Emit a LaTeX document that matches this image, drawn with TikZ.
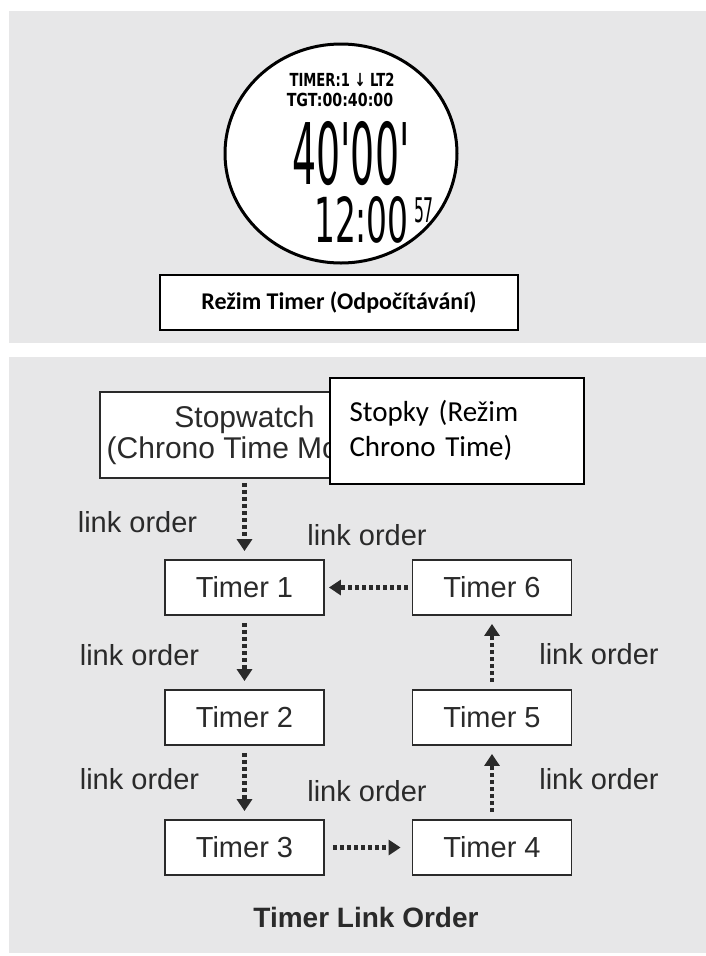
\documentclass[tikz,border=0pt]{standalone}
\usepackage{fontspec}
\setmainfont{Liberation Sans}
\newfontfamily\calibri{Carlito}
\newfontfamily\lcd{DejaVu Sans}
\usetikzlibrary{arrows.meta}
\usetikzlibrary{positioning}
\definecolor{panelgray}{HTML}{E7E7E8}
\definecolor{ink}{HTML}{2A2A2A}
\tikzset{
	timerbox/.style={draw=ink, line width=1.8pt, fill=white, minimum width=159pt, minimum height=55pt, text=ink, font=\fontsize{29}{32}\selectfont},
	linklabel/.style={text=ink, inner sep=0pt, font=\fontsize{29}{30}\selectfont},
	linkarrow/.style={draw=ink, line width=4.5pt, dash pattern=on 4pt off 3pt, -{Triangle[width=15pt,length=12pt]}, shorten <=7pt, shorten >=8pt},
	czbox/.style={draw=black, line width=2pt, fill=white},
	lcdtext/.style={inner sep=0pt, text=black, text depth=0pt}
}
\begin{document}
\begin{tikzpicture}[x=1pt, y=-1pt]
	\useasboundingbox (0,0) rectangle (706,956);
	% panels
	\fill[panelgray] (9,11) rectangle (706,343);
	\fill[panelgray] (9,357) rectangle (706,953);
	% watch face
	\draw[line width=3pt, fill=white] (341,153.5) ellipse [x radius=116pt, y radius=109.5pt];
	\node[lcdtext, anchor=base, xscale=0.73, text height=13pt, font=\lcd\bfseries\fontsize{18}{18}\selectfont] (wtimer) at (342,86) {TIMER:1 ↓ LT2};
	\node[lcdtext, anchor=base, xscale=0.79, text height=13pt, font=\lcd\bfseries\fontsize{18}{18}\selectfont] (wtarget) at (340,106) {TGT:00:40:00};
	\node[lcdtext, anchor=base, xscale=0.445, text height=62pt, font=\lcd\fontsize{85}{85}\selectfont] (wcount) at (351,184) {40'00'};
	\node[lcdtext, anchor=base west, xscale=0.53, text height=45pt, font=\lcd\fontsize{62}{62}\selectfont] (wclock) at (314,242) {12:00};
	\node[lcdtext, anchor=north west, xscale=0.46, text height=25pt, font=\lcd\fontsize{34}{34}\selectfont] (wsec) at ([xshift=5pt]wclock.north east) {57};
	\node[czbox, minimum width=358pt, minimum height=55pt, font=\calibri\bfseries\fontsize{24}{26}\selectfont] (mode) at (339,302.5) {Režim Timer (Odpočítávání)};
	% link order chart
	\node[draw=ink, line width=1.8pt, fill=white, minimum width=289pt, minimum height=86pt, align=center, text=ink, font=\fontsize{30}{31}\selectfont] (chrono) at (244.5,435) {Stopwatch\\(Chrono Time Mode)};
	\node[czbox, anchor=north west, minimum width=254pt, minimum height=106pt, text width=214pt, align=left, font=\calibri\fontsize{29}{35}\selectfont] (stopky) at (328.5,376.5) {Stopky (Režim\\Chrono Time)};
	\node[timerbox] (t1) at (244.5,587.5) {Timer 1};
	\node[timerbox] (t2) at (244.5,717.5) {Timer 2};
	\node[timerbox] (t3) at (244.5,847.5) {Timer 3};
	\node[timerbox] (t4) at (492,847.5) {Timer 4};
	\node[timerbox] (t5) at (492,717.5) {Timer 5};
	\node[timerbox] (t6) at (492,587.5) {Timer 6};
	\coordinate (chronoout) at (chrono.south -| t1);
	\draw[linkarrow, shorten <=4pt] (chronoout) -- (t1);
	\draw[linkarrow] (t1) -- (t2);
	\draw[linkarrow] (t2) -- (t3);
	\draw[linkarrow, shorten <=8pt, shorten >=11pt] (t3) -- (t4);
	\draw[linkarrow] (t4) -- (t5);
	\draw[linkarrow] (t5) -- (t6);
	\draw[linkarrow, shorten <=4pt, shorten >=4pt] (t6) -- (t1);
	\node[linklabel] (lo1) at (137.5,522) {link order};
	\node[linklabel] (lo2) at (367,535) {link order};
	\node[linklabel] (lo3) at (139.5,655) {link order};
	\node[linklabel] (lo4) at (599,654) {link order};
	\node[linklabel] (lo5) at (139.5,779) {link order};
	\node[linklabel] (lo6) at (367,791) {link order};
	\node[linklabel] (lo7) at (599,779) {link order};
	\node[text=ink, font=\bfseries\fontsize{28}{30}\selectfont] (title) at (366,917) {Timer Link Order};
\end{tikzpicture}
\end{document}
